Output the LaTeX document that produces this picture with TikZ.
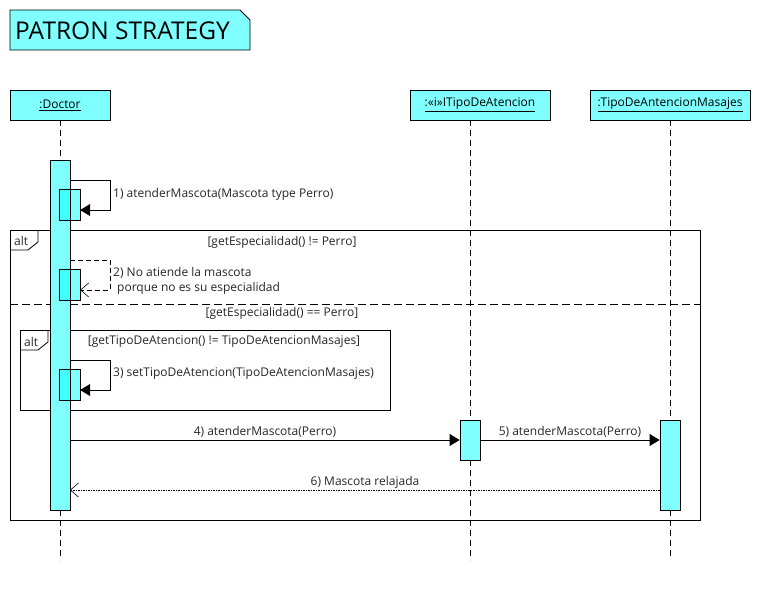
\documentclass[tikz,border=0pt]{standalone}
\usepackage{fontspec}
\setmainfont{Open Sans}
\usetikzlibrary{arrows.meta}
\definecolor{cy}{HTML}{80FFFF}
\definecolor{cyd}{HTML}{40FFFF}
\tikzset{
  lbl/.style={inner sep=0pt,font=\fontsize{12}{14}\selectfont,text=black!85},
  obj/.style={draw,fill=cy,line width=0.8pt,minimum width=#1,minimum height=30pt,inner sep=0pt,font=\fontsize{12}{14}\selectfont},
  life/.style={line width=0.6pt,dash pattern=on 6pt off 4pt},
  act/.style={draw,fill=cy,line width=0.8pt},
  sact/.style={fill=cy,minimum width=20pt,minimum height=30pt,inner sep=0pt},
  msg/.style={line width=0.8pt,-{Triangle[length=10pt,width=12pt]}},
  ret/.style={line width=0.6pt,dash pattern=on 1.5pt off 1pt,-{Straight Barb[length=8pt,width=14pt,line width=0.6pt]}},
  dret/.style={line width=0.8pt,dash pattern=on 5pt off 3pt,-{Straight Barb[length=8pt,width=14pt,line width=0.6pt]}},
  frame/.style={draw,line width=0.8pt},
}
\begin{document}
\begin{tikzpicture}[x=1pt,y=-1pt]
\useasboundingbox (0,0) rectangle (770,590);
% title note
\draw[fill=cy,line width=0.8pt] (10,10) -- (240,10) -- (250,20) -- (250,50) -- (10,50) -- cycle;
\node[anchor=west,inner sep=0pt,font=\fontsize{24.5}{28}\selectfont] (title) at (15,31) {PATRON STRATEGY};
% lifeline heads
\node[obj=100pt] (doc) at (60,105) {\underline{:Doctor}};
\node[obj=140pt] (itip) at (480,105) {\underline{:«i»ITipoDeAtencion}};
\node[obj=160pt] (mas) at (670,105) {\underline{:TipoDeAntencionMasajes}};
% lifelines
\coordinate (docend) at (60,560);
\coordinate (itipend) at (470,560);
\coordinate (masend) at (670,560);
\coordinate (doctop) at (60,120);
\coordinate (itiptop) at (470,120);
\draw[life] (doctop) -- (docend);
\draw[life] (itiptop) -- (itipend);
\draw[life] (mas.south) -- (masend);
% frames
\draw[frame] (10,230) rectangle (700,520);
\draw[frame] (10,250) -- (28,250) -- (38,242) -- (38,230);
\node[lbl,anchor=west] (alt1) at (14,241) {alt};
\draw[line width=0.8pt,dash pattern=on 8pt off 4pt] (10,304) -- (700,304);
\node[lbl] (g1) at (282,242) {[getEspecialidad() != Perro]};
\node[lbl] (g2) at (282,313) {[getEspecialidad() == Perro]};
\draw[frame] (20,330) rectangle (390,410);
\draw[frame] (20,350) -- (38,350) -- (48,342) -- (48,330);
\node[lbl,anchor=west] (alt2) at (24,342) {alt};
\node[lbl] (g3) at (224,342) {[getTipoDeAtencion() != TipoDeAtencionMasajes]};
% activations
\draw[act] (50,160) rectangle (70,510);
\node[sact] (a1) at (70,205) {};
\node[sact] (a2) at (70,285) {};
\node[sact] (a3) at (70,385) {};
\foreach \n in {a1,a2,a3}{
  \fill[cyd] (\n.north west) rectangle (\n.south);
  \draw[line width=0.8pt] (\n.north west) rectangle (\n.south east);
  \draw[line width=0.8pt] (\n.north) -- (\n.south);
}
\node[act,minimum width=20pt,minimum height=40pt,inner sep=0pt] (b1) at (470,440) {};
\node[act,minimum width=20pt,minimum height=90pt,inner sep=0pt] (c1) at (670,465) {};
% self messages
\coordinate (s1a) at (70,180);
\coordinate (s1b) at (110,180);
\coordinate (s1c) at (110,210);
\coordinate (s2a) at (70,260);
\coordinate (s2b) at (110,260);
\coordinate (s2c) at (110,290);
\coordinate (s3a) at (70,360);
\coordinate (s3b) at (110,360);
\coordinate (s3c) at (110,390);
\draw[msg] (s1a) -- (s1b) -- (s1c) -- (a1.east |- s1c);
\draw[dret] (s2a) -- (s2b) -- (s2c) -- (a2.east |- s2c);
\draw[msg] (s3a) -- (s3b) -- (s3c) -- (a3.east |- s3c);
\node[lbl,anchor=west] (m1) at (113,194) {1) atenderMascota(Mascota type Perro)};
\node[lbl,anchor=west] (m2) at (113,273) {2) No atiende la mascota};
\node[lbl,anchor=west] (m2b) at (117,288) {porque no es su especialidad};
\node[lbl,anchor=west] (m3) at (113,374) {3) setTipoDeAtencion(TipoDeAtencionMasajes)};
% messages
\coordinate (m4s) at (70,440);
\draw[msg] (m4s) -- (b1.west |- m4s);
\node[lbl] (m4) at (265,432) {4) atenderMascota(Perro)};
\draw[msg] (b1.east |- m4s) -- (c1.west |- m4s);
\node[lbl] (m5) at (570,432) {5) atenderMascota(Perro)};
\coordinate (m6e) at (70,490);
\draw[ret] (c1.west |- m6e) -- (m6e);
\node[lbl] (m6) at (365,482) {6) Mascota relajada};
\end{tikzpicture}
\end{document}
